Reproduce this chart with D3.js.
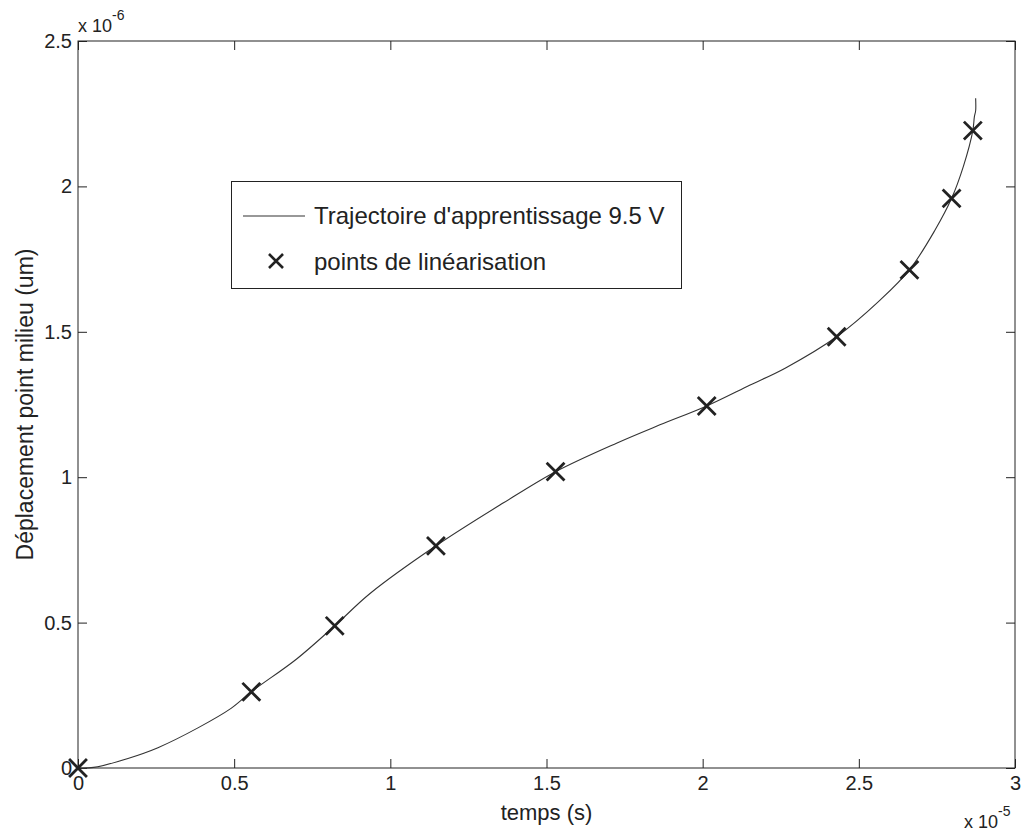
<!DOCTYPE html>
<html>
<head>
<meta charset="utf-8">
<script src="https://cdn.jsdelivr.net/npm/d3@7"></script>
<style>
  body { margin: 0; background: #fff; }
  text { font-family: "Liberation Sans", Arial, sans-serif; fill: #222; }
</style>
</head>
<body>
<div id="chart"></div>
<script>
// data (time in 1e-5 s, displacement in 1e-6 m)
var curveT = [0, 0.05, 0.16, 0.256, 0.384, 0.49, 0.555, 0.7, 0.822, 0.935, 1.146, 1.361, 1.529, 1.726, 1.863, 2.013, 2.152, 2.264, 2.429, 2.568, 2.662, 2.744, 2.797, 2.835, 2.865, 2.870, 2.874, 2.874];
var curveY = [0, 0.002, 0.033, 0.07, 0.138, 0.205, 0.262, 0.375, 0.489, 0.6, 0.764, 0.911, 1.019, 1.118, 1.18, 1.245, 1.317, 1.375, 1.483, 1.609, 1.713, 1.85, 1.959, 2.07, 2.192, 2.24, 2.26, 2.303];
var pointsT = [0, 0.555, 0.822, 1.146, 1.529, 2.013, 2.429, 2.662, 2.797, 2.865];
var pointsY = [0, 0.262, 0.489, 0.764, 1.019, 1.245, 1.483, 1.713, 1.959, 2.192];
var xTicks = [0, 0.5, 1, 1.5, 2, 2.5, 3];
var yTicks = [0, 0.5, 1, 1.5, 2, 2.5];
var legendLabels = ["Trajectoire d'apprentissage 9.5 V", "points de linéarisation"];

var svgWidth = 1021;
var svgHeight = 832;
var margin = { top: 41, right: 6, bottom: 64, left: 78 };
var width = svgWidth - margin.left - margin.right;
var height = svgHeight - margin.top - margin.bottom;

var svg = d3.select("#chart")
  .append("svg")
  .attr("width", svgWidth)
  .attr("height", svgHeight);

var chartGroup = svg.append("g")
  .attr("transform", `translate(${margin.left}, ${margin.top})`);

var x = d3.scaleLinear().domain([0, 3]).range([0, width]);
var y = d3.scaleLinear().domain([0, 2.5]).range([height, 0]);

var fmt = d => String(d);

// axes, ticks pointing inward on all four sides
function styleAxis(g) {
  g.select(".domain").remove();
  g.selectAll(".tick line").attr("stroke", "#222");
  g.selectAll(".tick text").style("font-size", "20px").attr("fill", "#222");
}

chartGroup.append("g")
  .attr("transform", `translate(0, ${height})`)
  .call(d3.axisBottom(x).tickValues(xTicks).tickFormat(fmt).tickSizeInner(-9).tickSizeOuter(0).tickPadding(8))
  .call(styleAxis);

chartGroup.append("g")
  .call(d3.axisTop(x).tickValues(xTicks).tickFormat("").tickSizeInner(-9).tickSizeOuter(0))
  .call(styleAxis);

chartGroup.append("g")
  .call(d3.axisLeft(y).tickValues(yTicks).tickFormat(fmt).tickSizeInner(-9).tickSizeOuter(0).tickPadding(6))
  .call(styleAxis);

chartGroup.append("g")
  .attr("transform", `translate(${width}, 0)`)
  .call(d3.axisRight(y).tickValues(yTicks).tickFormat("").tickSizeInner(-9).tickSizeOuter(0))
  .call(styleAxis);

chartGroup.append("rect")
  .attr("width", width)
  .attr("height", height)
  .attr("fill", "none")
  .attr("stroke", "#222")
  .attr("stroke-width", 1);

// exponent labels
var expY = svg.append("text")
  .attr("x", margin.left)
  .attr("y", 32)
  .style("font-size", "18px");
expY.append("tspan").text("x 10");
expY.append("tspan").attr("dy", -12).style("font-size", "14px").text("-6");

var expX = svg.append("text")
  .attr("x", 964)
  .attr("y", 828)
  .style("font-size", "18px");
expX.append("tspan").text("x 10");
expX.append("tspan").attr("dy", -12).style("font-size", "14px").text("-5");

// trajectory line
var curveData = curveT.map((t, i) => ({ t: t, v: curveY[i] }));
chartGroup.append("path")
  .datum(curveData)
  .attr("fill", "none")
  .attr("stroke", "#333")
  .attr("stroke-width", 1.1)
  .attr("d", d3.line().curve(d3.curveCatmullRom.alpha(0.5)).x(d => x(d.t)).y(d => y(d.v)));

// linearisation points as crosses
var cross = d3.symbol().type(d3.symbolX).size(210);
var pointData = pointsT.map((t, i) => ({ t: t, v: pointsY[i] }));
chartGroup.selectAll("path.pt")
  .data(pointData)
  .enter().append("path")
  .attr("class", "pt")
  .attr("d", cross)
  .attr("transform", d => `translate(${x(d.t)}, ${y(d.v)})`)
  .attr("fill", "none")
  .attr("stroke", "#222")
  .attr("stroke-width", 2.8);

// axis labels
svg.append("text")
  .attr("x", margin.left + width / 2)
  .attr("y", 820)
  .attr("text-anchor", "middle")
  .style("font-size", "22px")
  .text("temps (s)");

svg.append("text")
  .attr("transform", `translate(33, ${margin.top + height / 2}) rotate(-90)`)
  .attr("text-anchor", "middle")
  .style("font-size", "23px")
  .text("Déplacement point milieu (um)");

// legend
var legend = svg.append("g");
legend.append("rect")
  .attr("x", 231.5)
  .attr("y", 181.5)
  .attr("width", 450)
  .attr("height", 107)
  .attr("fill", "#fff")
  .attr("stroke", "#222")
  .attr("stroke-width", 1);

legend.append("line")
  .attr("x1", 243).attr("x2", 305)
  .attr("y1", 216).attr("y2", 216)
  .attr("stroke", "#333")
  .attr("stroke-width", 1.1);

legend.append("path")
  .attr("d", d3.symbol().type(d3.symbolX).size(130)())
  .attr("transform", "translate(276, 261)")
  .attr("fill", "none")
  .attr("stroke", "#222")
  .attr("stroke-width", 2.6);

legend.selectAll("text.lg")
  .data(legendLabels)
  .enter().append("text")
  .attr("class", "lg")
  .attr("x", 314)
  .attr("y", (d, i) => 224 + i * 46)
  .style("font-size", "24px")
  .text(d => d);
</script>
</body>
</html>
